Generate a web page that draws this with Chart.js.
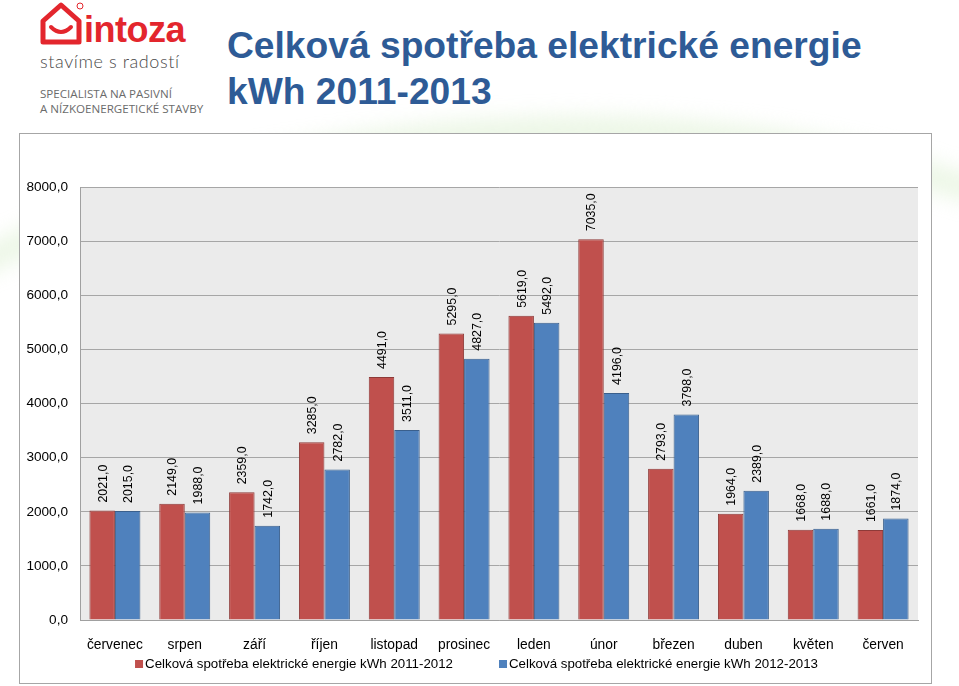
<!DOCTYPE html>
<html><head><meta charset="utf-8">
<script src="https://cdn.jsdelivr.net/npm/chart.js@4.4.1/dist/chart.umd.min.js"></script>
<style>
html,body{margin:0;padding:0;background:#fff;}
body{width:959px;height:686px;position:relative;overflow:hidden;font-family:"Liberation Sans",Arial,sans-serif;}
#swoosh{position:absolute;left:-250px;top:118px;width:1500px;height:700px;border-radius:50%;border-top:38px solid rgba(190,225,170,0.28);filter:blur(10px);transform:rotate(-4deg);}
#logo{position:absolute;left:38px;top:0;}
.brand{position:absolute;left:46px;top:9px;font:bold 36px "Liberation Sans",Arial,sans-serif;color:#e3262d;letter-spacing:-0.5px;}
.tag{position:absolute;left:2px;top:50px;font:300 18px "Lato","Open Sans",sans-serif;color:#4a4a4a;white-space:nowrap;letter-spacing:0.6px;}
.spec{position:absolute;left:2px;font:11.6px "Open Sans","Liberation Sans",sans-serif;color:#6b6b6b;white-space:nowrap;}
#title{position:absolute;left:227px;top:22px;font:bold 37.2px "Liberation Sans",Arial,sans-serif;color:#2e5b96;line-height:46px;white-space:nowrap;}
#box{position:absolute;left:19px;top:133px;width:911px;height:549px;border:1px solid #a6a6a6;background:#fff;}
canvas{display:block;}
</style></head>
<body>
<div id="swoosh"></div>
<div id="logo">
  <svg width="50" height="48" style="position:absolute;left:0;top:0" viewBox="0 0 50 48">
    <path d="M5 42 L5 21 L23 5 L41 21 L41 42 Z" fill="none" stroke="#e3262d" stroke-width="5" stroke-linejoin="round"/>
    <path d="M13 27 Q23 37 33 27" fill="none" stroke="#e3262d" stroke-width="4" stroke-linecap="round"/>
    <circle cx="42" cy="6" r="3" fill="none" stroke="#e3262d" stroke-width="1"/>
  </svg>
  <div class="brand">intoza</div>
  <div class="tag">stavíme s radostí</div>
  <div class="spec" style="top:86px">SPECIALISTA NA PASIVNÍ</div>
  <div class="spec" style="top:101px">A NÍZKOENERGETICKÉ STAVBY</div>
</div>
<div id="title">Celková spotřeba elektrické energie<br>kWh 2011-2013</div>
<div id="box"><canvas id="c" width="911" height="549"></canvas></div>
<script>
const categories = ["červenec","srpen","září","říjen","listopad","prosinec","leden","únor","březen","duben","květen","červen"];
const seriesNames = ["Celková spotřeba elektrické energie kWh 2011-2012","Celková spotřeba elektrické energie kWh 2012-2013"];
const values2011_2012 = [2021,2149,2359,3285,4491,5295,5619,7035,2793,1964,1668,1661];
const values2012_2013 = [2015,1988,1742,2782,3511,4827,5492,4196,3798,2389,1688,1874];
const yTicks = [0,1000,2000,3000,4000,5000,6000,7000,8000];

const fmt = v => Number(v).toFixed(1).replace('.', ',');
const FONT = '"Liberation Sans", Arial, sans-serif';

const bgPlugin = {
  id: 'plotBg',
  beforeDraw(chart) {
    const {ctx, chartArea: a} = chart;
    ctx.save();
    ctx.fillStyle = '#ebebeb';
    ctx.fillRect(a.left, a.top, a.right - a.left, a.bottom - a.top);
    ctx.restore();
  }
};
const labelPlugin = {
  id: 'valLabels',
  afterDatasetsDraw(chart) {
    const ctx = chart.ctx;
    ctx.save();
    ctx.font = '12.4px ' + FONT;
    ctx.fillStyle = '#000';
    ctx.textAlign = 'left';
    ctx.textBaseline = 'middle';
    chart.data.datasets.forEach((ds, i) => {
      chart.getDatasetMeta(i).data.forEach((bar, j) => {
        ctx.save();
        ctx.translate(bar.x + 1, bar.y - 8);
        ctx.rotate(-Math.PI / 2);
        ctx.fillText(fmt(ds.data[j]), 0, 0);
        ctx.restore();
      });
    });
    ctx.restore();
  }
};
const legendPlugin = {
  id: 'customLegend',
  afterDraw(chart) {
    const ctx = chart.ctx;
    ctx.save();
    ctx.font = '13.3px ' + FONT;
    ctx.textBaseline = 'middle';
    const box = 8, gap = 2, spacing = 46;
    const items = chart.data.datasets.map(ds => ({text: ds.label, color: ds.backgroundColor, w: box + gap + ctx.measureText(ds.label).width}));
    const total = items.reduce((s, it) => s + it.w, 0) + spacing * (items.length - 1);
    let x = chart.width / 2 - total / 2 + 1;
    const y = 530;
    items.forEach(it => {
      ctx.fillStyle = it.color;
      ctx.fillRect(x, y - 4, box, box);
      ctx.fillStyle = '#000';
      ctx.fillText(it.text, x + box + gap, y);
      x += it.w + spacing;
    });
    ctx.restore();
  }
};

new Chart(document.getElementById('c'), {
  type: 'bar',
  data: {
    labels: categories,
    datasets: [
      {label: seriesNames[0], data: values2011_2012, backgroundColor: '#c0504d', borderColor: '#8e3a38', borderWidth: 1},
      {label: seriesNames[1], data: values2012_2013, backgroundColor: '#4f81bd', borderColor: '#3a5f8c', borderWidth: 1}
    ]
  },
  options: {
    responsive: false,
    animation: false,
    layout: {padding: {top: 53, right: 13, bottom: 0, left: 0}},
    datasets: {bar: {categoryPercentage: 0.73, barPercentage: 1.0}},
    plugins: {legend: {display: false}, tooltip: {enabled: false}},
    scales: {
      x: {
        grid: {display: false},
        border: {display: true, color: '#a0a0a0', width: 1},
        ticks: {color: '#000', font: {size: 13.8, family: FONT}, padding: 9, maxRotation: 0},
        afterFit(s) { s.height = 63; }
      },
      y: {
        min: 0, max: 8000,
        afterBuildTicks(s) { s.ticks = yTicks.map(v => ({value: v})); },
        grid: {color: '#a6a6a6', drawTicks: false},
        border: {display: true, color: '#a0a0a0', width: 1},
        ticks: {color: '#000', font: {size: 13.6, family: FONT}, padding: 12, callback: v => fmt(v)},
        afterFit(s) { s.width = 60; }
      }
    }
  },
  plugins: [bgPlugin, labelPlugin, legendPlugin]
});
</script>
</body></html>
